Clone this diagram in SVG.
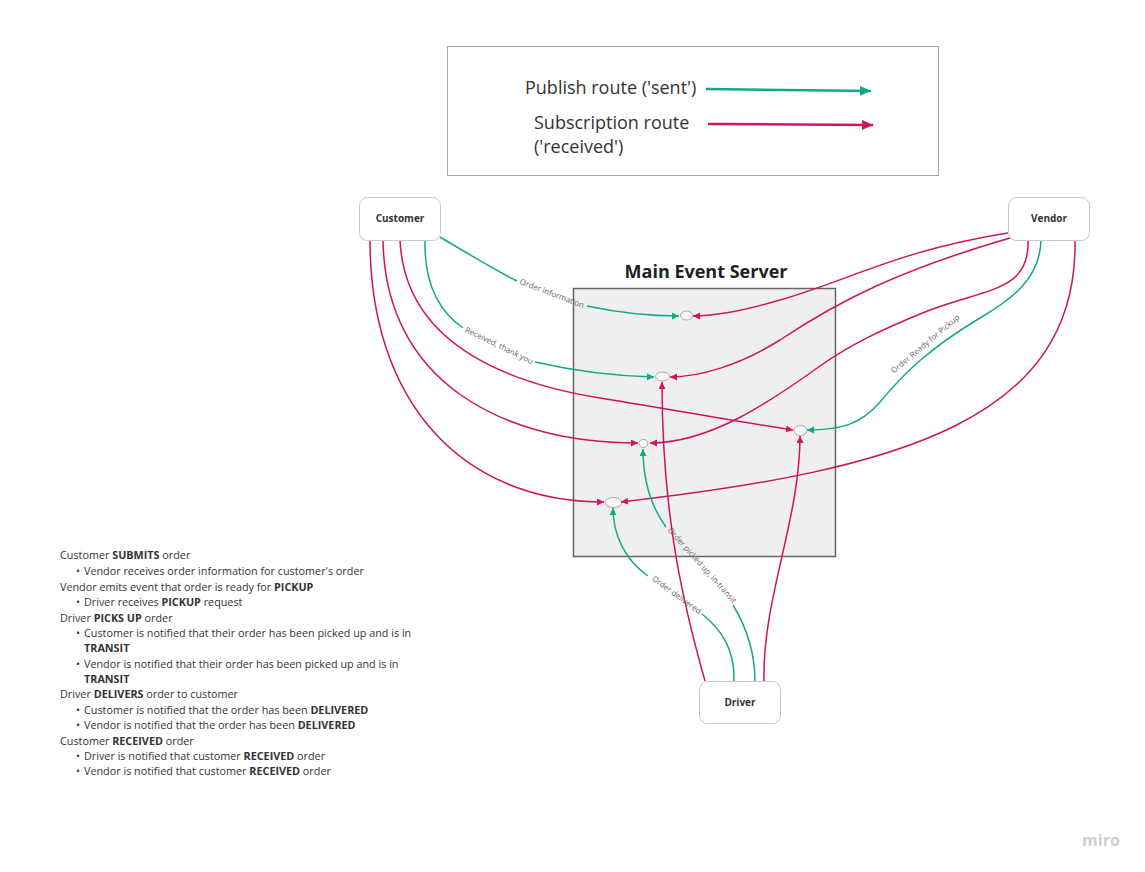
<svg xmlns="http://www.w3.org/2000/svg" width="1145" height="872" viewBox="0 0 1145 872">
<style>
.node rect{fill:#fff;stroke:#c8c8c8;stroke-width:1}
.node text{font-family:"Open Sans","Liberation Sans",sans-serif;font-size:10px;font-weight:700;fill:#333;text-anchor:middle}
.g{fill:none;stroke:#13a88a;stroke-width:1.5}
.p{fill:none;stroke:#d1135e;stroke-width:1.5}
.lbl{font-family:"Open Sans","Liberation Sans",sans-serif;font-size:8px;fill:#666;text-anchor:middle}
.ell{fill:#f7f7f7;stroke:#999;stroke-width:0.8}
.list{font-family:"Open Sans","Liberation Sans",sans-serif;font-size:10.8px;fill:#333}
.b{font-weight:700}
.leg{font-family:"Open Sans","Liberation Sans",sans-serif;font-size:18px;fill:#333}
</style>
<defs>
<marker id="ag" markerUnits="userSpaceOnUse" markerWidth="8" markerHeight="8" refX="7" refY="3.5" orient="auto"><path d="M0,0 L7,3.5 L0,7 z" fill="#13a88a"/></marker>
<marker id="ap" markerUnits="userSpaceOnUse" markerWidth="8" markerHeight="8" refX="7" refY="3.5" orient="auto"><path d="M0,0 L7,3.5 L0,7 z" fill="#d1135e"/></marker>
<marker id="lg" markerUnits="userSpaceOnUse" markerWidth="12" markerHeight="12" refX="11" refY="5" orient="auto"><path d="M0,0 L11,5 L0,10 z" fill="#13a88a"/></marker>
<marker id="lp" markerUnits="userSpaceOnUse" markerWidth="12" markerHeight="12" refX="11" refY="5" orient="auto"><path d="M0,0 L11,5 L0,10 z" fill="#d1135e"/></marker>
</defs>
<rect width="1145" height="872" fill="#fff"/>

<g id="legend">
<rect x="447.5" y="46.5" width="491" height="129" fill="#fff" stroke="#a8a8a8" stroke-width="1"/>
<text class="leg" x="525" y="94">Publish route ('sent')</text>
<text class="leg" x="534" y="129">Subscription route</text>
<text class="leg" x="534" y="153">('received')</text>
<path d="M706,89 L871,91" fill="none" stroke="#13a88a" stroke-width="2.5" marker-end="url(#lg)"/>
<path d="M708,124 L873,125" fill="none" stroke="#d1135e" stroke-width="2.5" marker-end="url(#lp)"/>
</g>

<g id="server">
<text x="706" y="278" font-family="'Open Sans','Liberation Sans',sans-serif" font-size="18" font-weight="700" fill="#222" text-anchor="middle">Main Event Server</text>
<rect x="573.5" y="288.5" width="262" height="268" fill="#efefef" stroke="#666" stroke-width="1.5"/>
</g>

<g id="topics">
<ellipse class="ell" cx="686.5" cy="315.5" rx="6" ry="4.5"/>
<ellipse class="ell" cx="662.5" cy="376.5" rx="7" ry="4.5"/>
<ellipse class="ell" cx="643.5" cy="443.5" rx="4.5" ry="4"/>
<ellipse class="ell" cx="800.5" cy="430.5" rx="6.5" ry="5"/>
<ellipse class="ell" cx="613.5" cy="502.5" rx="8.5" ry="5"/>
</g>

<g id="connectors">
<path class="g" d="M440,237 C470,255 495,270 517,281"/>
<path class="g" d="M587,306 C620,313 650,316 679,316" marker-end="url(#ag)"/>
<text class="lbl" transform="translate(551,296) rotate(21)">Order information</text>
<path class="g" d="M425,240 C424,285 440,312 463,328"/>
<path class="g" d="M535,362 C570,370 610,376 654,377" marker-end="url(#ag)"/>
<text class="lbl" transform="translate(498,348) rotate(26)">Received, thank you</text>
<path class="p" d="M370,240 C370,400 460,502 604,502" marker-end="url(#ap)"/>
<path class="p" d="M383,240 C385,380 500,443 638,443" marker-end="url(#ap)"/>
<path class="p" d="M400,240 C405,350 520,385 600,398 C680,411 740,422 793,430" marker-end="url(#ap)"/>
<path class="p" d="M1008,233 C900,250 850,280 780,300 C740,312 715,316 693,316" marker-end="url(#ap)"/>
<path class="p" d="M1010,238 C900,270 840,300 780,340 C740,365 700,377 670,377" marker-end="url(#ap)"/>
<path class="p" d="M1028,240 C1030,290 990,288 930,310 C880,330 850,345 820,366 C770,402 710,443 650,443" marker-end="url(#ap)"/>
<path class="g" d="M1041,240 C1040,280 1010,300 980,318 C930,348 905,372 880,402 C860,425 840,430 807,430" marker-end="url(#ag)"/>
<text class="lbl" transform="translate(927,346) rotate(-40)">Order Ready for Pickup</text>
<path class="p" d="M1075,240 C1078,420 900,470 621,502" marker-end="url(#ap)"/>
<path class="p" d="M705,681 C685,610 662,520 662,382" marker-end="url(#ap)"/>
<path class="g" d="M734,681 C735,650 722,630 702,614"/>
<path class="g" d="M648,576 C625,560 613,535 613,508" marker-end="url(#ag)"/>
<text class="lbl" transform="translate(675,597) rotate(36)">Order delivered</text>
<path class="g" d="M755,681 C755,650 745,625 733,605"/>
<path class="g" d="M666,527 C650,505 643,480 643,449" marker-end="url(#ag)"/>
<text class="lbl" transform="translate(700,567) rotate(48)">Order picked up, in-transit</text>
<path class="p" d="M764,681 C762,600 800,520 800,436" marker-end="url(#ap)"/>
</g>

<g id="customer" class="node">
<rect x="359.5" y="197.5" width="81" height="43" rx="8"/>
<text x="400" y="222">Customer</text>
</g>
<g id="vendor" class="node">
<rect x="1008.5" y="197.5" width="81" height="43" rx="8"/>
<text x="1049" y="222">Vendor</text>
</g>
<g id="driver" class="node">
<rect x="699.5" y="681.5" width="81" height="42" rx="8"/>
<text x="740" y="706">Driver</text>
</g>

<g id="notes" class="list">
<text x="60" y="559">Customer <tspan class="b">SUBMITS</tspan> order</text>
<text x="76" y="575">•</text><text x="84" y="575">Vendor receives order information for customer's order</text>
<text x="60" y="591">Vendor emits event that order is ready for <tspan class="b">PICKUP</tspan></text>
<text x="76" y="606">•</text><text x="84" y="606">Driver receives <tspan class="b">PICKUP</tspan> request</text>
<text x="60" y="622">Driver <tspan class="b">PICKS UP</tspan> order</text>
<text x="76" y="637">•</text><text x="84" y="637">Customer is notified that their order has been picked up and is in</text>
<text x="84" y="652" class="b">TRANSIT</text>
<text x="76" y="668">•</text><text x="84" y="668">Vendor is notified that their order has been picked up and is in</text>
<text x="84" y="683" class="b">TRANSIT</text>
<text x="60" y="698">Driver <tspan class="b">DELIVERS</tspan> order to customer</text>
<text x="76" y="714">•</text><text x="84" y="714">Customer is notified that the order has been <tspan class="b">DELIVERED</tspan></text>
<text x="76" y="729">•</text><text x="84" y="729">Vendor is notified that the order has been <tspan class="b">DELIVERED</tspan></text>
<text x="60" y="745">Customer <tspan class="b">RECEIVED</tspan> order</text>
<text x="76" y="760">•</text><text x="84" y="760">Driver is notified that customer <tspan class="b">RECEIVED</tspan> order</text>
<text x="76" y="775">•</text><text x="84" y="775">Vendor is notified that customer <tspan class="b">RECEIVED</tspan> order</text>
</g>

<text x="1101" y="846" font-family="'Open Sans','Liberation Sans',sans-serif" font-size="16" font-weight="700" fill="#cfcfcf" text-anchor="middle">miro</text>
</svg>
